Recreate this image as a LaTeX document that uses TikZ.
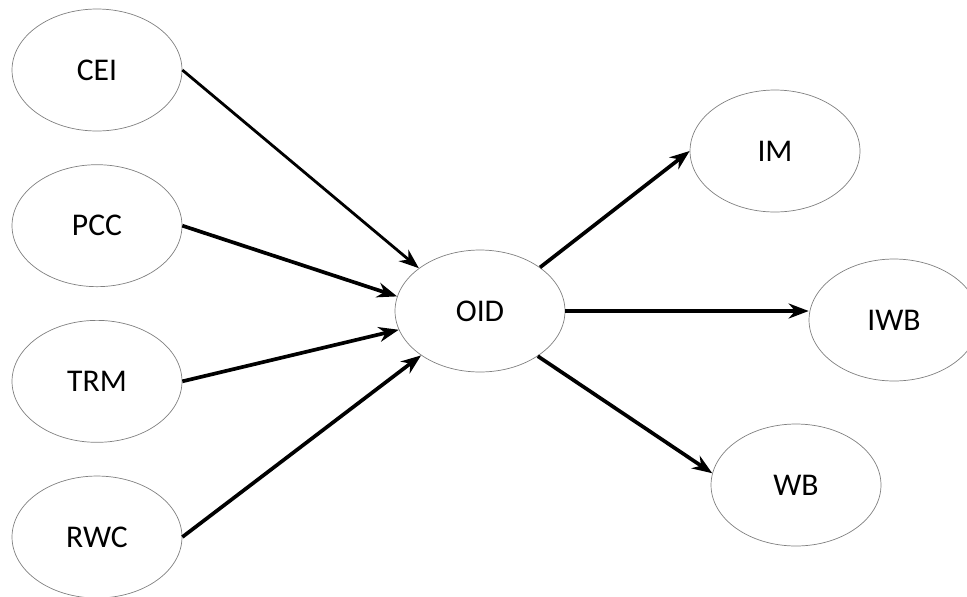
\documentclass[tikz,border=0pt]{standalone}
\usepackage{fontspec}
\setmainfont{Carlito}
\usepackage{tikz}
\usetikzlibrary{positioning, arrows.meta, shapes.geometric}

\begin{document}
\begin{tikzpicture}[
      x=0.02cm, y=-0.02cm,
      node_var/.style={ellipse, draw=gray, line width=0.4pt, minimum width=3.4cm, minimum height=2.44cm, inner sep=0pt, font=\fontsize{18}{21}\selectfont},
      edge_path/.style={-{Stealth[length=4mm, width=3mm]}, line width=2.1pt},
      node distance=0.66cm and 1.5cm
    ]
      \useasboundingbox (0,0) rectangle (967,596);
      \node[node_var] (CEI) at (97,70) {CEI};
      \node[node_var, below=of CEI] (PCC) {PCC};
      \node[node_var, below=of PCC] (TRM) {TRM};
      \node[node_var, below=of TRM] (RWC) {RWC};
      \node[node_var] (OID) at (480,311) {OID};
      \node[node_var] (IM) at (775,151) {IM};
      \node[node_var] (IWB) at (894,320) {IWB};
      \node[node_var] (WB) at (796,485) {WB};

      \draw[edge_path, line width=1.6pt] (CEI.east) to (OID.145);
      \draw[edge_path] (PCC.east) to (OID.170);
      \draw[edge_path] (TRM.east) to (OID.193);
      \draw[edge_path] (RWC.east) to (OID.217);
      \draw[edge_path] (OID.36) to (IM.west);
      \draw[edge_path] (OID.east) to (IWB.west |- OID.east);
      \draw[edge_path] (OID.-38) to (WB.172);
    \end{tikzpicture}
\end{document}
